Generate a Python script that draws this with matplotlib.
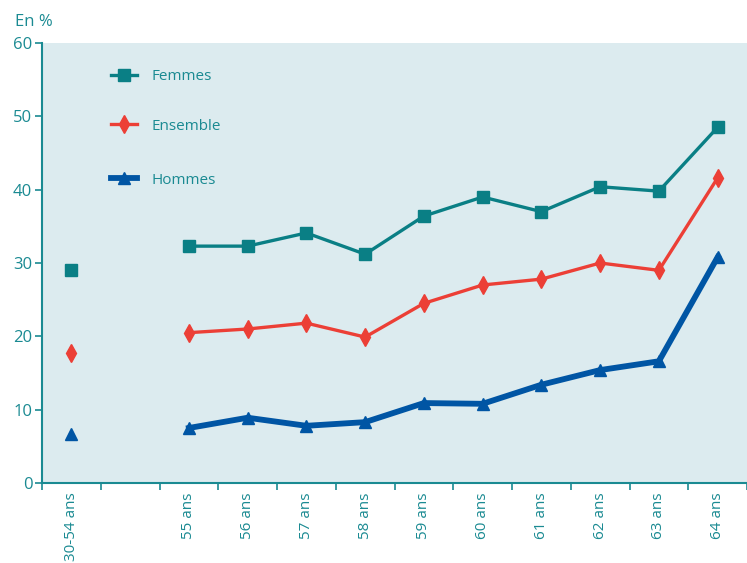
import numpy as np
import matplotlib.pyplot as plt

plt.rcParams['font.family'] = ['Open Sans', 'DejaVu Sans']

categories = ['30-54 ans', '', '55 ans', '56 ans', '57 ans', '58 ans', '59 ans',
              '60 ans', '61 ans', '62 ans', '63 ans', '64 ans']
femmes_base = 29.0
ensemble_base = 17.7
hommes_base = 6.7
femmes = [32.3, 32.3, 34.1, 31.2, 36.4, 39.0, 37.0, 40.4, 39.8, 48.5]
ensemble = [20.5, 21.0, 21.8, 19.9, 24.5, 27.0, 27.8, 30.0, 29.0, 41.6]
hommes = [7.5, 8.9, 7.8, 8.3, 10.9, 10.8, 13.4, 15.4, 16.6, 30.8]

teal = '#0a7f85'
red = '#ec3f36'
blue = '#0055a4'
txt = '#1a8a92'

x = np.arange(len(categories))
xa = x[2:]

fig = plt.figure(figsize=(7.47, 5.63), dpi=100)
ax = fig.add_axes([42/747, 80/563, 705/747, 440/563])
ax.set_facecolor('#dcebef')

lf, = ax.plot(xa, femmes, color=teal, lw=2.4, marker='s', ms=8)
le, = ax.plot(xa, ensemble, color=red, lw=2.4, marker='d', ms=9)
lh, = ax.plot(xa, hommes, color=blue, lw=4.2, marker='^', ms=8)
ax.plot([0], [femmes_base], color=teal, marker='s', ms=8, ls='none')
ax.plot([0], [ensemble_base], color=red, marker='d', ms=9, ls='none')
ax.plot([0], [hommes_base], color=blue, marker='^', ms=8, ls='none')

ax.set_xlim(-0.5, len(categories) - 0.55)
ax.set_ylim(0, 60)
ax.set_yticks([0, 10, 20, 30, 40, 50, 60])
ax.set_xticks(x)
ax.set_xticklabels(categories, rotation=90)
ax.set_xticks(np.arange(-0.5, len(categories), 1), minor=True)
ax.tick_params(axis='x', which='major', length=0, pad=7, labelsize=11, labelcolor=txt)
ax.tick_params(axis='x', which='minor', length=5, color=txt, width=1.2)
ax.tick_params(axis='y', length=5, color=txt, width=1.2, labelsize=12, labelcolor=txt, pad=2)

for s in ['top', 'right']:
    ax.spines[s].set_visible(False)
for s in ['left', 'bottom']:
    ax.spines[s].set_color(txt)
    ax.spines[s].set_linewidth(1.5)

# one legend per entry, to match the uneven spacing
legend_rows = [(lf, 'Femmes', 77), (le, 'Ensemble', 126), (lh, 'Hommes', 180)]
for line, name, ypx in legend_rows:
    lg = ax.legend([line], [name], loc='center left', frameon=False,
                   bbox_to_anchor=(103/747, 1 - ypx/563), bbox_transform=fig.transFigure,
                   fontsize=11, handlelength=1.7, handletextpad=1.0, borderpad=0)
    lg.get_texts()[0].set_color(txt)
    ax.add_artist(lg)
ax.legend_ = None

fig.text(15/747, 1 - 22/563, 'En %', color=txt, fontsize=12, va='center')

fig.savefig('out.png', dpi=100)
